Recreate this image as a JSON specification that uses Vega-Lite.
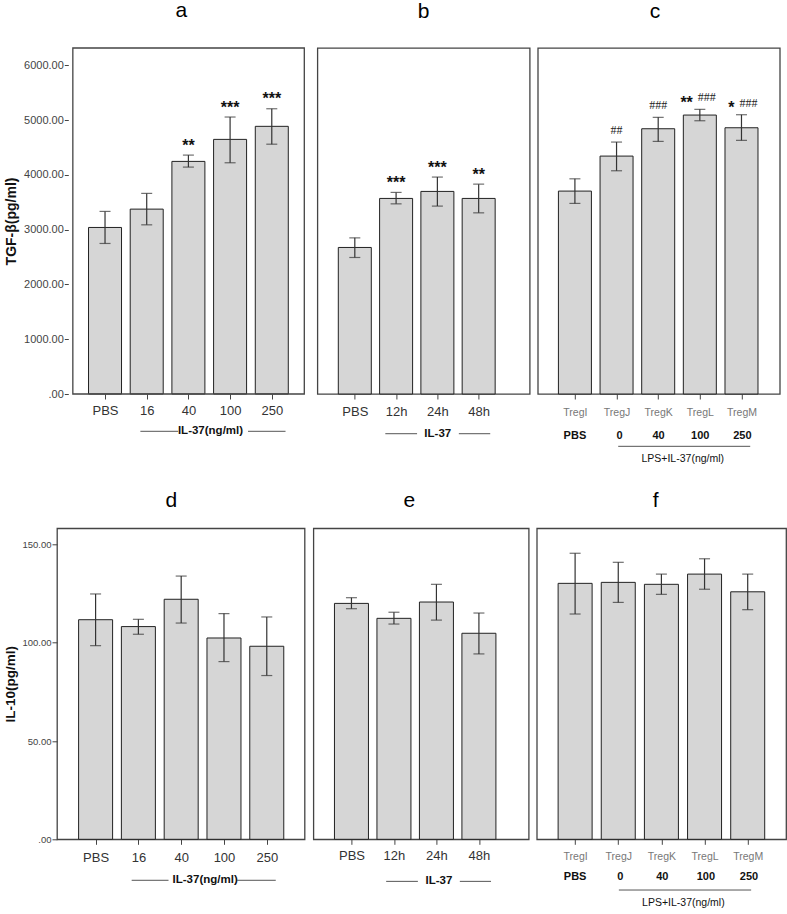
{
  "$schema": "https://vega.github.io/schema/vega-lite/v6.json",
  "padding": {"left": 3, "top": 0, "right": 2, "bottom": 2},
  "datasets": {
    "bars": [
      {"panel": "a", "pos": 0, "value": 3040, "lo": 2748, "hi": 3333, "star": "", "hash": ""},
      {"panel": "a", "pos": 1, "value": 3375, "lo": 3088, "hi": 3662, "star": "", "hash": ""},
      {"panel": "a", "pos": 2, "value": 4246, "lo": 4142, "hi": 4361, "star": "**", "hash": ""},
      {"panel": "a", "pos": 3, "value": 4648, "lo": 4221, "hi": 5056, "star": "***", "hash": ""},
      {"panel": "a", "pos": 4, "value": 4886, "lo": 4560, "hi": 5207, "star": "***", "hash": ""},
      {"panel": "b", "pos": 0, "value": 2675, "lo": 2492, "hi": 2850, "star": "", "hash": ""},
      {"panel": "b", "pos": 1, "value": 3570, "lo": 3471, "hi": 3680, "star": "***", "hash": ""},
      {"panel": "b", "pos": 2, "value": 3698, "lo": 3430, "hi": 3960, "star": "***", "hash": ""},
      {"panel": "b", "pos": 3, "value": 3570, "lo": 3307, "hi": 3831, "star": "**", "hash": ""},
      {"panel": "c", "pos": 0, "value": 3704, "lo": 3479, "hi": 3928, "star": "", "hash": ""},
      {"panel": "c", "pos": 1, "value": 4343, "lo": 4075, "hi": 4599, "star": "", "hash": "##"},
      {"panel": "c", "pos": 2, "value": 4842, "lo": 4611, "hi": 5050, "star": "", "hash": "###"},
      {"panel": "c", "pos": 3, "value": 5092, "lo": 4988, "hi": 5196, "star": "**", "hash": "###"},
      {"panel": "c", "pos": 4, "value": 4860, "lo": 4630, "hi": 5098, "star": "*", "hash": "###"},
      {"panel": "d", "pos": 0, "value": 111.7, "lo": 98.5, "hi": 124.8, "star": "", "hash": ""},
      {"panel": "d", "pos": 1, "value": 108.2, "lo": 104.3, "hi": 111.9, "star": "", "hash": ""},
      {"panel": "d", "pos": 2, "value": 122.1, "lo": 110.0, "hi": 133.9, "star": "", "hash": ""},
      {"panel": "d", "pos": 3, "value": 102.4, "lo": 90.4, "hi": 114.8, "star": "", "hash": ""},
      {"panel": "d", "pos": 4, "value": 98.2, "lo": 83.3, "hi": 113.1, "star": "", "hash": ""},
      {"panel": "e", "pos": 0, "value": 120.0, "lo": 117.3, "hi": 122.9, "star": "", "hash": ""},
      {"panel": "e", "pos": 1, "value": 112.4, "lo": 109.5, "hi": 115.5, "star": "", "hash": ""},
      {"panel": "e", "pos": 2, "value": 120.7, "lo": 111.5, "hi": 129.7, "star": "", "hash": ""},
      {"panel": "e", "pos": 3, "value": 104.8, "lo": 94.3, "hi": 115.1, "star": "", "hash": ""},
      {"panel": "f", "pos": 0, "value": 130.2, "lo": 114.6, "hi": 145.5, "star": "", "hash": ""},
      {"panel": "f", "pos": 1, "value": 130.7, "lo": 120.5, "hi": 140.9, "star": "", "hash": ""},
      {"panel": "f", "pos": 2, "value": 129.7, "lo": 124.6, "hi": 134.9, "star": "", "hash": ""},
      {"panel": "f", "pos": 3, "value": 134.9, "lo": 127.2, "hi": 142.7, "star": "", "hash": ""},
      {"panel": "f", "pos": 4, "value": 125.9, "lo": 116.8, "hi": 134.9, "star": "", "hash": ""}
    ],
    "lines": [
      {"panel": "a", "x1": 0.848, "x2": 1.756, "y": -681},
      {"panel": "a", "x1": 3.43, "x2": 4.33, "y": -681},
      {"panel": "b", "x1": 0.739, "x2": 1.508, "y": -725},
      {"panel": "b", "x1": 2.52, "x2": 3.28, "y": -725},
      {"panel": "c", "x1": 1.04, "x2": 4.21, "y": -955},
      {"panel": "d", "x1": 0.843, "x2": 1.704, "y": -20.85},
      {"panel": "d", "x1": 3.31, "x2": 4.21, "y": -20.85},
      {"panel": "e", "x1": 0.817, "x2": 1.564, "y": -21.4},
      {"panel": "e", "x1": 2.551, "x2": 3.285, "y": -21.4},
      {"panel": "f", "x1": 1.014, "x2": 4.08, "y": -25.8}
    ],
    "notes": [
      {"panel": "a", "kind": "group", "x": 2.53, "y": -681, "text": "IL-37(ng/ml)"},
      {"panel": "b", "kind": "group", "x": 2.01, "y": -725, "text": "IL-37"},
      {"panel": "c", "kind": "dose", "x": 0.0, "y": -773, "text": "PBS"},
      {"panel": "c", "kind": "dose", "x": 1.07, "y": -773, "text": "0"},
      {"panel": "c", "kind": "dose", "x": 2.01, "y": -773, "text": "40"},
      {"panel": "c", "kind": "dose", "x": 3.01, "y": -773, "text": "100"},
      {"panel": "c", "kind": "dose", "x": 4.02, "y": -773, "text": "250"},
      {"panel": "c", "kind": "caption", "x": 2.59, "y": -1182, "text": "LPS+IL-37(ng/ml)"},
      {"panel": "d", "kind": "group", "x": 2.56, "y": -20.85, "text": "IL-37(ng/ml)"},
      {"panel": "e", "kind": "group", "x": 2.057, "y": -21.4, "text": "IL-37"},
      {"panel": "f", "kind": "dose", "x": 0.0, "y": -19.0, "text": "PBS"},
      {"panel": "f", "kind": "dose", "x": 1.05, "y": -19.0, "text": "0"},
      {"panel": "f", "kind": "dose", "x": 2.02, "y": -19.0, "text": "40"},
      {"panel": "f", "kind": "dose", "x": 3.03, "y": -19.0, "text": "100"},
      {"panel": "f", "kind": "dose", "x": 4.03, "y": -19.0, "text": "250"},
      {"panel": "f", "kind": "caption", "x": 2.51, "y": -32.6, "text": "LPS+IL-37(ng/ml)"}
    ]
  },
  "concat": [
    {
      "hconcat": [
        {
          "width": 252.3, "height": 346,
          "view": {"stroke": null},
          "title": {"text": "a", "dx": -1.85, "offset": 26, "frame": "group"},
          "layer": [
            {"data": {"name": "bars"}, "transform": [{"filter": "datum.panel=='a'"}],
             "mark": {"type": "bar", "size": 33, "fill": "#d6d6d6", "stroke": "#222", "strokeWidth": 1},
             "encoding": {
               "x": {"field": "pos", "type": "quantitative", "title": null, "scale": {"domain": [-1.032, 4.78], "nice": false, "zero": false},
                     "axis": {"values": [0, 1, 2, 3, 4], "labelExpr": "['PBS','16','40','100','250'][datum.value]", "labelFontSize": 13, "labelPadding": 5, "tickSize": 5}},
               "y": {"field": "value", "type": "quantitative", "scale": {"domain": [0, 6316], "nice": false},
                     "axis": {"title": "TGF-β(pg/ml)", "offset": -11.3, "values": [0, 1000, 2000, 3000, 4000, 5000, 6000], "labelExpr": "datum.value==0?'.00':format(datum.value,'.2f')", "labelFontSize": 11, "labelColor": "#444", "labelPadding": 1, "tickSize": 4, "titleFontSize": 14, "titleX": -50}}
             }},
            {"data": {"name": "bars"}, "transform": [{"filter": "datum.panel=='a'"}],
             "mark": {"type": "rule", "color": "#333", "strokeWidth": 1.2},
             "encoding": {
               "x": {"field": "pos", "type": "quantitative"},
               "y": {"field": "lo", "type": "quantitative"},
               "y2": {"field": "hi"}}},
            {"data": {"name": "bars"}, "transform": [{"filter": "datum.panel=='a'"}],
             "mark": {"type": "tick", "orient": "horizontal", "size": 11, "thickness": 1.2, "color": "#333"},
             "encoding": {
               "x": {"field": "pos", "type": "quantitative"},
               "y": {"field": "lo", "type": "quantitative"}}},
            {"data": {"name": "bars"}, "transform": [{"filter": "datum.panel=='a'"}],
             "mark": {"type": "tick", "orient": "horizontal", "size": 11, "thickness": 1.2, "color": "#333"},
             "encoding": {
               "x": {"field": "pos", "type": "quantitative"},
               "y": {"field": "hi", "type": "quantitative"}}},
            {"data": {"name": "bars"}, "transform": [{"filter": "datum.panel=='a' && datum.star!=''"}],
             "mark": {"type": "text", "baseline": "alphabetic", "dy": -4.5, "fontSize": 16, "fontWeight": "bold", "color": "#111"},
             "encoding": {
               "x": {"field": "pos", "type": "quantitative"},
               "y": {"field": "hi", "type": "quantitative"},
               "text": {"field": "star"}}},
            {"data": {"name": "lines"}, "transform": [{"filter": "datum.panel=='a'"}],
             "mark": {"type": "rule", "color": "#555", "strokeWidth": 1},
             "encoding": {
               "x": {"field": "x1", "type": "quantitative"},
               "x2": {"field": "x2"},
               "y": {"field": "y", "type": "quantitative"}}},
            {"data": {"name": "notes"}, "transform": [{"filter": "datum.panel=='a'"}],
             "mark": {"type": "text", "baseline": "middle", "fontSize": 11.5, "fontWeight": "bold", "color": "#111"},
             "encoding": {
               "x": {"field": "x", "type": "quantitative"},
               "y": {"field": "y", "type": "quantitative"},
               "text": {"field": "text"}}},
            {"data": {"values": [{}]},
             "mark": {"type": "rect", "fill": "#ffffff", "fillOpacity": 0, "stroke": "#444", "strokeWidth": 1.3},
             "encoding": {
               "x": {"datum": -0.772, "type": "quantitative"},
               "x2": {"datum": 4.78},
               "y": {"datum": 0, "type": "quantitative"},
               "y2": {"datum": 6316}}}
          ]
        },
        {
          "width": 212.3, "height": 346,
          "title": {"text": "b", "dx": 0, "offset": 26, "frame": "group"},
          "layer": [
            {"data": {"name": "bars"}, "transform": [{"filter": "datum.panel=='b'"}],
             "mark": {"type": "bar", "size": 33, "fill": "#d6d6d6", "stroke": "#222", "strokeWidth": 1},
             "encoding": {
               "x": {"field": "pos", "type": "quantitative", "title": null, "scale": {"domain": [-0.785, 4.115], "nice": false, "zero": false},
                     "axis": {"values": [0, 1, 2, 3], "labelExpr": "['PBS','12h','24h','48h'][datum.value]", "labelFontSize": 13, "labelPadding": 6.5, "tickSize": 5}},
               "y": {"field": "value", "type": "quantitative", "title": null, "scale": {"domain": [0, 6316], "nice": false}, "axis": {"labels": false, "ticks": false}}
             }},
            {"data": {"name": "bars"}, "transform": [{"filter": "datum.panel=='b'"}],
             "mark": {"type": "rule", "color": "#333", "strokeWidth": 1.2},
             "encoding": {
               "x": {"field": "pos", "type": "quantitative", "title": null},
               "y": {"field": "lo", "type": "quantitative", "title": null},
               "y2": {"field": "hi"}}},
            {"data": {"name": "bars"}, "transform": [{"filter": "datum.panel=='b'"}],
             "mark": {"type": "tick", "orient": "horizontal", "size": 11, "thickness": 1.2, "color": "#333"},
             "encoding": {
               "x": {"field": "pos", "type": "quantitative", "title": null},
               "y": {"field": "lo", "type": "quantitative", "title": null}}},
            {"data": {"name": "bars"}, "transform": [{"filter": "datum.panel=='b'"}],
             "mark": {"type": "tick", "orient": "horizontal", "size": 11, "thickness": 1.2, "color": "#333"},
             "encoding": {
               "x": {"field": "pos", "type": "quantitative", "title": null},
               "y": {"field": "hi", "type": "quantitative", "title": null}}},
            {"data": {"name": "bars"}, "transform": [{"filter": "datum.panel=='b' && datum.star!=''"}],
             "mark": {"type": "text", "baseline": "alphabetic", "dy": -4.5, "fontSize": 16, "fontWeight": "bold", "color": "#111"},
             "encoding": {
               "x": {"field": "pos", "type": "quantitative", "title": null},
               "y": {"field": "hi", "type": "quantitative", "title": null},
               "text": {"field": "star"}}},
            {"data": {"name": "lines"}, "transform": [{"filter": "datum.panel=='b'"}],
             "mark": {"type": "rule", "color": "#555", "strokeWidth": 1},
             "encoding": {
               "x": {"field": "x1", "type": "quantitative", "title": null},
               "x2": {"field": "x2"},
               "y": {"field": "y", "type": "quantitative", "title": null}}},
            {"data": {"name": "notes"}, "transform": [{"filter": "datum.panel=='b'"}],
             "mark": {"type": "text", "baseline": "middle", "fontSize": 11.5, "fontWeight": "bold", "color": "#111"},
             "encoding": {
               "x": {"field": "x", "type": "quantitative", "title": null},
               "y": {"field": "y", "type": "quantitative", "title": null},
               "text": {"field": "text"}}}
          ]
        },
        {
          "width": 242, "height": 346,
          "title": {"text": "c", "dx": -3.7, "offset": 26, "frame": "group"},
          "layer": [
            {"data": {"name": "bars"}, "transform": [{"filter": "datum.panel=='c'"}],
             "mark": {"type": "bar", "size": 33, "fill": "#d6d6d6", "stroke": "#222", "strokeWidth": 1},
             "encoding": {
               "x": {"field": "pos", "type": "quantitative", "title": null, "scale": {"domain": [-0.771, 4.8], "nice": false, "zero": false},
                     "axis": {"values": [0, 1, 2, 3, 4], "labelExpr": "['TregI','TregJ','TregK','TregL','TregM'][datum.value]", "labelFontSize": 10.5, "labelColor": "#777", "labelPadding": 8, "tickSize": 5}},
               "y": {"field": "value", "type": "quantitative", "title": null, "scale": {"domain": [0, 6316], "nice": false}, "axis": {"labels": false, "ticks": false}}
             }},
            {"data": {"name": "bars"}, "transform": [{"filter": "datum.panel=='c'"}],
             "mark": {"type": "rule", "color": "#333", "strokeWidth": 1.2},
             "encoding": {
               "x": {"field": "pos", "type": "quantitative", "title": null},
               "y": {"field": "lo", "type": "quantitative", "title": null},
               "y2": {"field": "hi"}}},
            {"data": {"name": "bars"}, "transform": [{"filter": "datum.panel=='c'"}],
             "mark": {"type": "tick", "orient": "horizontal", "size": 11, "thickness": 1.2, "color": "#333"},
             "encoding": {
               "x": {"field": "pos", "type": "quantitative", "title": null},
               "y": {"field": "lo", "type": "quantitative", "title": null}}},
            {"data": {"name": "bars"}, "transform": [{"filter": "datum.panel=='c'"}],
             "mark": {"type": "tick", "orient": "horizontal", "size": 11, "thickness": 1.2, "color": "#333"},
             "encoding": {
               "x": {"field": "pos", "type": "quantitative", "title": null},
               "y": {"field": "hi", "type": "quantitative", "title": null}}},
            {"data": {"name": "bars"}, "transform": [{"filter": "datum.panel=='c' && datum.star!=''"}],
             "mark": {"type": "text", "baseline": "alphabetic", "align": "right", "dx": -7, "dy": -1.5, "fontSize": 16, "fontWeight": "bold", "color": "#111"},
             "encoding": {
               "x": {"field": "pos", "type": "quantitative", "title": null},
               "y": {"field": "hi", "type": "quantitative", "title": null},
               "text": {"field": "star"}}},
            {"data": {"name": "bars"}, "transform": [{"filter": "datum.panel=='c' && datum.hash!='' && datum.star==''"}],
             "mark": {"type": "text", "baseline": "alphabetic", "align": "center", "dy": -8, "fontSize": 12, "font": "Liberation Serif", "color": "#222"},
             "encoding": {
               "x": {"field": "pos", "type": "quantitative", "title": null},
               "y": {"field": "hi", "type": "quantitative", "title": null},
               "text": {"field": "hash"}}},
            {"data": {"name": "bars"}, "transform": [{"filter": "datum.panel=='c' && datum.hash!='' && datum.star!=''"}],
             "mark": {"type": "text", "baseline": "alphabetic", "align": "left", "dx": -2, "dy": -8, "fontSize": 12, "font": "Liberation Serif", "color": "#222"},
             "encoding": {
               "x": {"field": "pos", "type": "quantitative", "title": null},
               "y": {"field": "hi", "type": "quantitative", "title": null},
               "text": {"field": "hash"}}},
            {"data": {"name": "lines"}, "transform": [{"filter": "datum.panel=='c'"}],
             "mark": {"type": "rule", "color": "#555", "strokeWidth": 1},
             "encoding": {
               "x": {"field": "x1", "type": "quantitative", "title": null},
               "x2": {"field": "x2"},
               "y": {"field": "y", "type": "quantitative", "title": null}}},
            {"data": {"name": "notes"}, "transform": [{"filter": "datum.panel=='c' && datum.kind=='dose'"}],
             "mark": {"type": "text", "baseline": "middle", "fontSize": 11, "fontWeight": "bold", "color": "#111"},
             "encoding": {
               "x": {"field": "x", "type": "quantitative", "title": null},
               "y": {"field": "y", "type": "quantitative", "title": null},
               "text": {"field": "text"}}},
            {"data": {"name": "notes"}, "transform": [{"filter": "datum.panel=='c' && datum.kind=='caption'"}],
             "mark": {"type": "text", "baseline": "middle", "fontSize": 10.5, "color": "#111"},
             "encoding": {
               "x": {"field": "x", "type": "quantitative", "title": null},
               "y": {"field": "y", "type": "quantitative", "title": null},
               "text": {"field": "text"}}}
          ]
        }
      ],
      "spacing": 6.4
    },
    {
      "hconcat": [
        {
          "width": 247.6, "height": 311,
          "title": {"text": "d", "dx": -9.5, "offset": 17, "frame": "group"},
          "layer": [
            {"data": {"name": "bars"}, "transform": [{"filter": "datum.panel=='d'"}],
             "mark": {"type": "bar", "size": 34, "fill": "#d6d6d6", "stroke": "#222", "strokeWidth": 1},
             "encoding": {
               "x": {"field": "pos", "type": "quantitative", "title": null, "scale": {"domain": [-0.785, 4.767], "nice": false, "zero": false},
                     "axis": {"values": [0, 1, 2, 3, 4], "labelExpr": "['PBS','16','40','100','250'][datum.value]", "labelFontSize": 13, "labelPadding": 7.5, "tickSize": 5}},
               "y": {"field": "value", "type": "quantitative", "scale": {"domain": [0, 158.2], "nice": false},
                     "axis": {"title": "IL-10(pg/ml)", "values": [0, 50, 100, 150], "labelExpr": "datum.value==0?'.00':format(datum.value,'.2f')", "labelFontSize": 9.5, "labelColor": "#444", "labelPadding": 1, "tickSize": 5, "titleFontSize": 13.5, "titleX": -39.2}}
             }},
            {"data": {"name": "bars"}, "transform": [{"filter": "datum.panel=='d'"}],
             "mark": {"type": "rule", "color": "#333", "strokeWidth": 1.2},
             "encoding": {
               "x": {"field": "pos", "type": "quantitative"},
               "y": {"field": "lo", "type": "quantitative"},
               "y2": {"field": "hi"}}},
            {"data": {"name": "bars"}, "transform": [{"filter": "datum.panel=='d'"}],
             "mark": {"type": "tick", "orient": "horizontal", "size": 11, "thickness": 1.2, "color": "#333"},
             "encoding": {
               "x": {"field": "pos", "type": "quantitative"},
               "y": {"field": "lo", "type": "quantitative"}}},
            {"data": {"name": "bars"}, "transform": [{"filter": "datum.panel=='d'"}],
             "mark": {"type": "tick", "orient": "horizontal", "size": 11, "thickness": 1.2, "color": "#333"},
             "encoding": {
               "x": {"field": "pos", "type": "quantitative"},
               "y": {"field": "hi", "type": "quantitative"}}},
            {"data": {"name": "lines"}, "transform": [{"filter": "datum.panel=='d'"}],
             "mark": {"type": "rule", "color": "#555", "strokeWidth": 1},
             "encoding": {
               "x": {"field": "x1", "type": "quantitative"},
               "x2": {"field": "x2"},
               "y": {"field": "y", "type": "quantitative"}}},
            {"data": {"name": "notes"}, "transform": [{"filter": "datum.panel=='d'"}],
             "mark": {"type": "text", "baseline": "middle", "fontSize": 11.5, "fontWeight": "bold", "color": "#111"},
             "encoding": {
               "x": {"field": "x", "type": "quantitative"},
               "y": {"field": "y", "type": "quantitative"},
               "text": {"field": "text"}}}
          ]
        },
        {
          "width": 215.3, "height": 311,
          "title": {"text": "e", "dx": -11.6, "offset": 17, "frame": "group"},
          "layer": [
            {"data": {"name": "bars"}, "transform": [{"filter": "datum.panel=='e'"}],
             "mark": {"type": "bar", "size": 34, "fill": "#d6d6d6", "stroke": "#222", "strokeWidth": 1},
             "encoding": {
               "x": {"field": "pos", "type": "quantitative", "title": null, "scale": {"domain": [-0.778, 4.054], "nice": false, "zero": false},
                     "axis": {"values": [0, 1, 2, 3], "labelExpr": "['PBS','12h','24h','48h'][datum.value]", "labelFontSize": 13, "labelPadding": 5.5, "tickSize": 5}},
               "y": {"field": "value", "type": "quantitative", "title": null, "scale": {"domain": [0, 158.2], "nice": false}, "axis": {"labels": false, "ticks": false}}
             }},
            {"data": {"name": "bars"}, "transform": [{"filter": "datum.panel=='e'"}],
             "mark": {"type": "rule", "color": "#333", "strokeWidth": 1.2},
             "encoding": {
               "x": {"field": "pos", "type": "quantitative", "title": null},
               "y": {"field": "lo", "type": "quantitative", "title": null},
               "y2": {"field": "hi"}}},
            {"data": {"name": "bars"}, "transform": [{"filter": "datum.panel=='e'"}],
             "mark": {"type": "tick", "orient": "horizontal", "size": 11, "thickness": 1.2, "color": "#333"},
             "encoding": {
               "x": {"field": "pos", "type": "quantitative", "title": null},
               "y": {"field": "lo", "type": "quantitative", "title": null}}},
            {"data": {"name": "bars"}, "transform": [{"filter": "datum.panel=='e'"}],
             "mark": {"type": "tick", "orient": "horizontal", "size": 11, "thickness": 1.2, "color": "#333"},
             "encoding": {
               "x": {"field": "pos", "type": "quantitative", "title": null},
               "y": {"field": "hi", "type": "quantitative", "title": null}}},
            {"data": {"name": "lines"}, "transform": [{"filter": "datum.panel=='e'"}],
             "mark": {"type": "rule", "color": "#555", "strokeWidth": 1},
             "encoding": {
               "x": {"field": "x1", "type": "quantitative", "title": null},
               "x2": {"field": "x2"},
               "y": {"field": "y", "type": "quantitative", "title": null}}},
            {"data": {"name": "notes"}, "transform": [{"filter": "datum.panel=='e'"}],
             "mark": {"type": "text", "baseline": "middle", "fontSize": 11.5, "fontWeight": "bold", "color": "#111"},
             "encoding": {
               "x": {"field": "x", "type": "quantitative", "title": null},
               "y": {"field": "y", "type": "quantitative", "title": null},
               "text": {"field": "text"}}}
          ]
        },
        {
          "width": 249.3, "height": 311,
          "title": {"text": "f", "dx": -5.7, "offset": 17, "frame": "group"},
          "layer": [
            {"data": {"name": "bars"}, "transform": [{"filter": "datum.panel=='f'"}],
             "mark": {"type": "bar", "size": 34, "fill": "#d6d6d6", "stroke": "#222", "strokeWidth": 1},
             "encoding": {
               "x": {"field": "pos", "type": "quantitative", "title": null, "scale": {"domain": [-0.772, 4.774], "nice": false, "zero": false},
                     "axis": {"values": [0, 1, 2, 3, 4], "labelExpr": "['TregI','TregJ','TregK','TregL','TregM'][datum.value]", "labelFontSize": 10.5, "labelColor": "#777", "labelPadding": 6.7, "tickSize": 5}},
               "y": {"field": "value", "type": "quantitative", "title": null, "scale": {"domain": [0, 158.2], "nice": false}, "axis": {"labels": false, "ticks": false}}
             }},
            {"data": {"name": "bars"}, "transform": [{"filter": "datum.panel=='f'"}],
             "mark": {"type": "rule", "color": "#333", "strokeWidth": 1.2},
             "encoding": {
               "x": {"field": "pos", "type": "quantitative", "title": null},
               "y": {"field": "lo", "type": "quantitative", "title": null},
               "y2": {"field": "hi"}}},
            {"data": {"name": "bars"}, "transform": [{"filter": "datum.panel=='f'"}],
             "mark": {"type": "tick", "orient": "horizontal", "size": 11, "thickness": 1.2, "color": "#333"},
             "encoding": {
               "x": {"field": "pos", "type": "quantitative", "title": null},
               "y": {"field": "lo", "type": "quantitative", "title": null}}},
            {"data": {"name": "bars"}, "transform": [{"filter": "datum.panel=='f'"}],
             "mark": {"type": "tick", "orient": "horizontal", "size": 11, "thickness": 1.2, "color": "#333"},
             "encoding": {
               "x": {"field": "pos", "type": "quantitative", "title": null},
               "y": {"field": "hi", "type": "quantitative", "title": null}}},
            {"data": {"name": "lines"}, "transform": [{"filter": "datum.panel=='f'"}],
             "mark": {"type": "rule", "color": "#555", "strokeWidth": 1},
             "encoding": {
               "x": {"field": "x1", "type": "quantitative", "title": null},
               "x2": {"field": "x2"},
               "y": {"field": "y", "type": "quantitative", "title": null}}},
            {"data": {"name": "notes"}, "transform": [{"filter": "datum.panel=='f' && datum.kind=='dose'"}],
             "mark": {"type": "text", "baseline": "middle", "fontSize": 11, "fontWeight": "bold", "color": "#111"},
             "encoding": {
               "x": {"field": "x", "type": "quantitative", "title": null},
               "y": {"field": "y", "type": "quantitative", "title": null},
               "text": {"field": "text"}}},
            {"data": {"name": "notes"}, "transform": [{"filter": "datum.panel=='f' && datum.kind=='caption'"}],
             "mark": {"type": "text", "baseline": "middle", "fontSize": 10.5, "color": "#111"},
             "encoding": {
               "x": {"field": "x", "type": "quantitative", "title": null},
               "y": {"field": "y", "type": "quantitative", "title": null},
               "text": {"field": "text"}}}
          ]
        }
      ],
      "spacing": 6.4
    }
  ],
  "columns": 1,
  "align": "none",
  "spacing": 24.3,
  "config": {
    "font": "Liberation Sans",
    "view": {"stroke": "#444", "strokeWidth": 1.3},
    "title": {"fontSize": 21, "fontWeight": "normal", "baseline": "alphabetic", "color": "#000", "font": "Liberation Sans", "anchor": "middle"},
    "axis": {"grid": false, "domain": false, "tickColor": "#444", "labelColor": "#333", "labelFont": "Liberation Sans", "titleFont": "Liberation Sans", "titleFontWeight": "bold", "titleColor": "#111", "labelOverlap": false, "labelFlush": false, "labelBound": false}
  }
}
